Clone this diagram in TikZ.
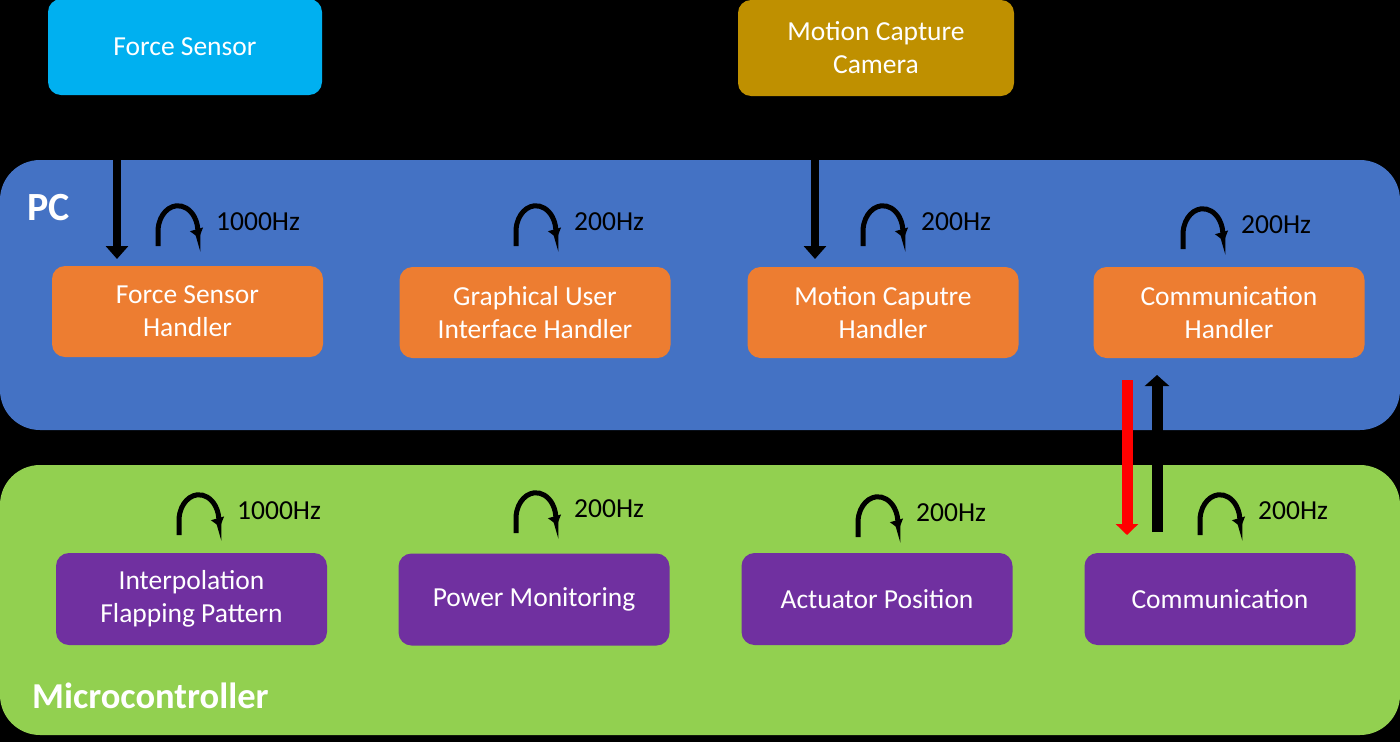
\documentclass[tikz,border=0pt]{standalone}
\usepackage{fontspec}
\setmainfont{Carlito}
\usetikzlibrary{arrows.meta}
\definecolor{cfs}{HTML}{00B0F0}
\definecolor{ccam}{HTML}{BF9000}
\definecolor{cpc}{HTML}{4472C4}
\definecolor{corg}{HTML}{ED7D31}
\definecolor{cgrn}{HTML}{92D050}
\definecolor{cpur}{HTML}{7030A0}
\newcommand\hzloop[3]{%
  \draw[line width=5pt,-{Triangle[length=9pt,width=13pt]}]
    ({#1-58},{#2+24}) -- ({#1-58},{#2+12})
    arc[start angle=185,end angle=-5,x radius=20pt,y radius=26pt]
    -- ({#1-17},{#2+16});
  \node[anchor=west,font=\fontsize{27.5}{30}\selectfont,inner sep=0pt] at (#1,#2) {#3};}
\begin{document}
\begin{tikzpicture}[x=1pt,y=-1pt,
  box/.style={rounded corners=13pt,text=white,align=center,inner sep=0pt,
    minimum width=271pt,minimum height=91pt,font=\fontsize{27.5}{33}\selectfont},
  panel/.style={rounded corners=40pt,inner sep=0pt,minimum width=1400pt,minimum height=270pt},
  bigarrow/.style={line width=8pt,-{Triangle[length=13pt,width=22pt]}}]
\useasboundingbox (0,0) rectangle (1400,742);
\fill[black] (0,0) rectangle (1400,742);
% panels
\node[panel,fill=cpc] (pc) at (700,295) {};
\node[panel,fill=cgrn] (mc) at (700,600) {};
\node[anchor=west,text=white,font=\bfseries\fontsize{40}{44}\selectfont,inner sep=0pt] (pclab) at (27,208) {PC};
\node[anchor=west,text=white,font=\bfseries\fontsize{36.5}{40}\selectfont,inner sep=0pt] (mclab) at (32,696) {Microcontroller};
% external
\node[box,fill=cfs,minimum width=274pt,minimum height=96pt] (fs) at (185,47) {Force Sensor};
\node[box,fill=ccam,minimum width=276pt,minimum height=96pt] (cam) at (876,48) {Motion Capture\\Camera};
% PC boxes
\node[box,fill=corg] (fsh) at (187.5,311.5) {Force Sensor\\Handler};
\node[box,fill=corg] (gui) at (535,312.5) {Graphical User\\Interface Handler};
\node[box,fill=corg] (mch) at (883,312.5) {Motion Caputre\\Handler};
\node[box,fill=corg] (ch) at (1229,312.5) {Communication\\Handler};
% MC boxes
\node[box,fill=cpur,minimum height=92pt] (ifp) at (191.5,599) {Interpolation\\Flapping Pattern};
\node[box,fill=cpur,minimum height=92pt] (pm) at (534,599.5) {Power Monitoring};
\node[box,fill=cpur,minimum height=92pt] (ap) at (877,599) {Actuator Position};
\node[box,fill=cpur,minimum height=92pt] (cm) at (1220,599) {Communication};
% loops
\hzloop{216}{222}{1000Hz}
\hzloop{574}{222}{200Hz}
\hzloop{921}{222}{200Hz}
\hzloop{1241}{225}{200Hz}
\hzloop{237}{511}{1000Hz}
\hzloop{574}{509}{200Hz}
\hzloop{916}{513}{200Hz}
\hzloop{1258}{511}{200Hz}
% arrows
\coordinate (a1s) at (117,160); \coordinate (a1e) at (117,259);
\coordinate (a2s) at (815,160); \coordinate (a2e) at (815,259);
\draw[bigarrow] (a1s) -- (a1e);
\draw[bigarrow] (a2s) -- (a2e);
\coordinate (rs) at (1127,380); \coordinate (re) at (1127,535);
\coordinate (bs) at (1157,532); \coordinate (be) at (1157,375);
\draw[line width=11pt,red,-{Triangle[length=11pt,width=22pt]}] (rs) -- (re);
\draw[line width=11pt,black,-{Triangle[length=11pt,width=24pt]}] (bs) -- (be);
\end{tikzpicture}
\end{document}
